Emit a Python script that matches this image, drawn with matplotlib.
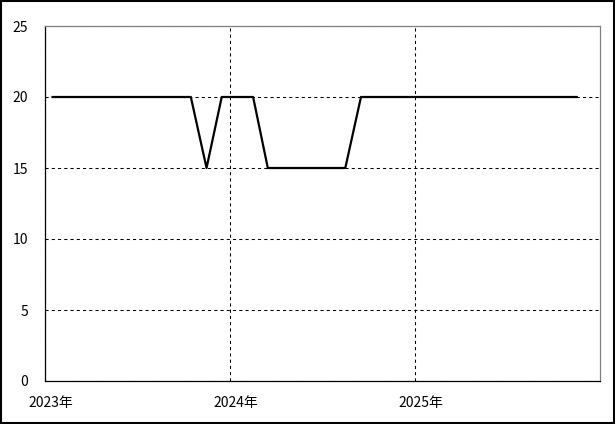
import numpy as np
import pandas as pd
import matplotlib
matplotlib.use("Agg")
import matplotlib.pyplot as plt
import matplotlib.transforms as mtransforms

plt.rcParams['font.family'] = ['Noto Sans CJK JP', 'DejaVu Sans']

# monthly values, Jan 2023 .. Nov 2025 (plotted mid-month)
months = pd.date_range("2023-01-01", "2025-11-01", freq="MS") + pd.Timedelta(days=15)
values = [20, 20, 20, 20, 20, 20, 20, 20, 20, 20, 15, 20,
          20, 20, 15, 15, 15, 15, 15, 15, 20, 20, 20, 20,
          20, 20, 20, 20, 20, 20, 20, 20, 20, 20, 20]

year_ticks = pd.to_datetime(["2023-01-01", "2024-01-01", "2025-01-01"])
year_labels = ["2023年", "2024年", "2025年"]
y_ticks = [0, 5, 10, 15, 20, 25]

fig = plt.figure(figsize=(6.15, 4.24), dpi=100)
ax = fig.add_axes([45/615, 43/424, 555/615, 355/424])

ax.plot(months, values, color='black', linewidth=1.6, zorder=3)

ax.set_xlim(pd.Timestamp("2023-01-01"), pd.Timestamp("2026-01-01"))
ax.set_ylim(0, 25)
ax.set_yticks(y_ticks)
ax.set_xticks(year_ticks)
ax.set_xticklabels(year_labels)

ax.grid(True, color='black', linestyle=(0, (3, 3)), linewidth=0.75)
ax.tick_params(axis='both', length=0, labelsize=10)
ax.tick_params(axis='y', pad=12)
ax.tick_params(axis='x', pad=11)

# shift x labels a bit to the right of the ticks
offset = mtransforms.ScaledTranslation(6/100, 0, fig.dpi_scale_trans)
for lbl in ax.get_xticklabels():
    lbl.set_transform(lbl.get_transform() + offset)

for side in ['top', 'right']:
    ax.spines[side].set_color('#808080')
for side in ['left', 'bottom']:
    ax.spines[side].set_color('black')
for sp in ax.spines.values():
    sp.set_linewidth(0.9)

# frame around the whole figure
fig.patches.append(plt.Rectangle((1/615, 1/424), 613/615, 422/424, transform=fig.transFigure,
                                 fill=False, edgecolor='black', linewidth=1.5))

fig.savefig("out.png", dpi=100)
